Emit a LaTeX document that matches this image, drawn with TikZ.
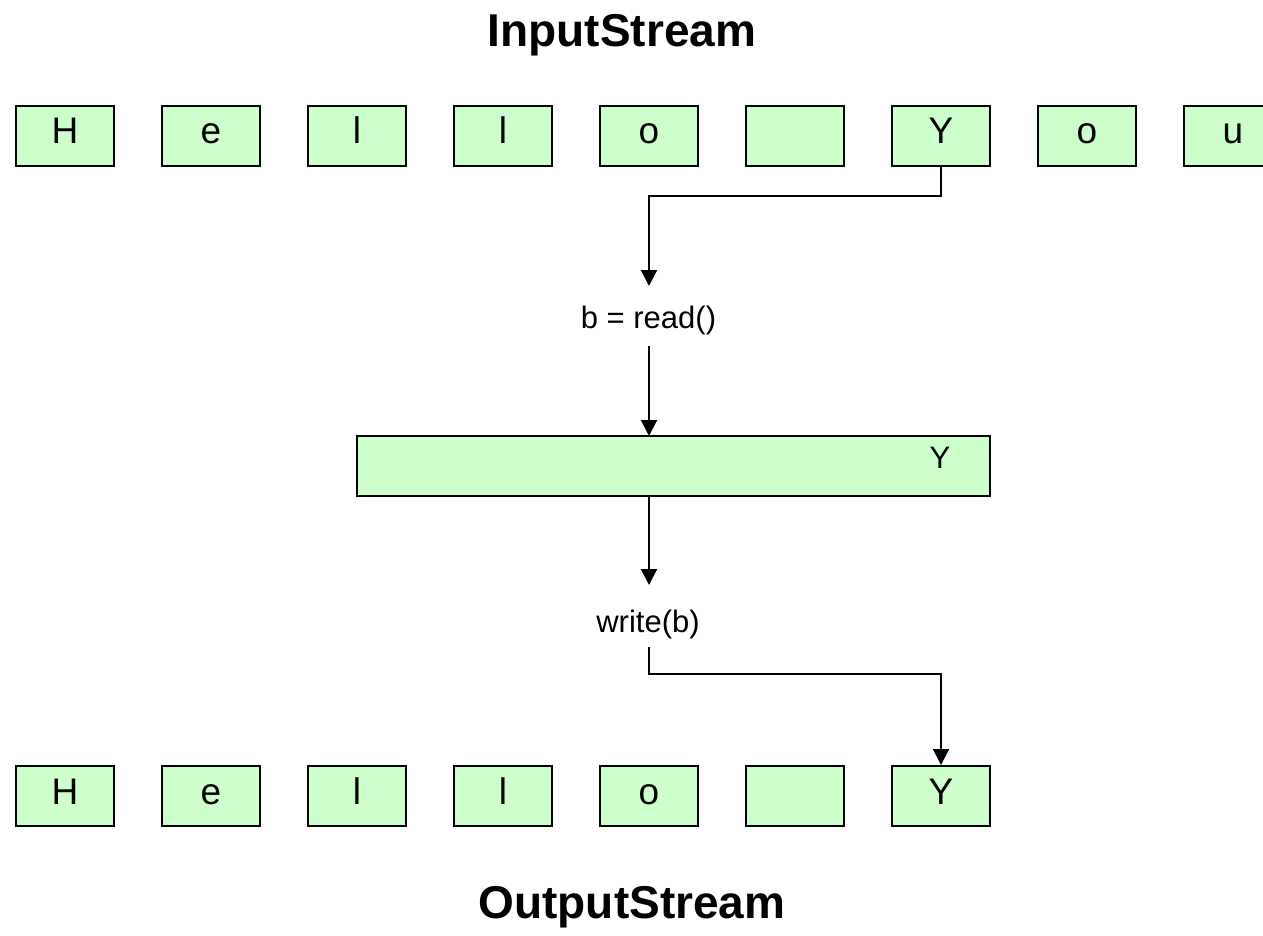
\documentclass[tikz,border=0pt]{standalone}
\usepackage{fontspec}
\setmainfont{Liberation Sans}
\usetikzlibrary{arrows.meta}
\definecolor{boxgreen}{HTML}{CCFFCC}
\tikzset{
  cell/.style={draw=black, fill=boxgreen, line width=2pt, minimum width=98pt, minimum height=60pt, inner sep=0pt, text height=28pt, text depth=12pt, font=\fontsize{37}{42}\selectfont},
  title/.style={font=\bfseries\fontsize{46}{52}\selectfont, anchor=base, inner sep=0pt},
  op/.style={font=\fontsize{31}{36}\selectfont, inner sep=0pt, anchor=base},
  conn/.style={line width=2pt, -{Triangle[length=16pt,width=16pt]}},
}
\begin{document}
\begin{tikzpicture}[x=1pt,y=-1pt]
\useasboundingbox (0,0) rectangle (1263,936);
\begin{scope}
\clip (0,0) rectangle (1263,936);
\node[title] (tin) at (622,47) {InputStream};
\node[title] (tout) at (632,918) {OutputStream};
\foreach \t [count=\i] in {H,e,l,l,o,{},Y,o,u} {
  \node[cell] (a\i) at ({65+146*(\i-1)},136) {\t};
}
\foreach \t [count=\i] in {H,e,l,l,o,{},Y} {
  \node[cell] (c\i) at ({65+146*(\i-1)},796) {\t};
}
\node[op] (rd) at (648.5,328) {b = read()};
\node[op] (wr) at (648,632) {write(b)};
\node[cell, minimum width=633pt] (buf) at (673.5,466) {};
\node[op] (bufY) at (940,468) {Y};
\coordinate (r0) at (649,286);
\coordinate (w0) at (649,647);
\draw[conn] (a7.south) |- (649,196) -- (r0);
\draw[conn] (649,346) -- (649,436);
\draw[conn] (649,496) -- (649,585);
\draw[conn] (w0) |- (941,674) -- (c7.north);
\end{scope}
\end{tikzpicture}
\end{document}
